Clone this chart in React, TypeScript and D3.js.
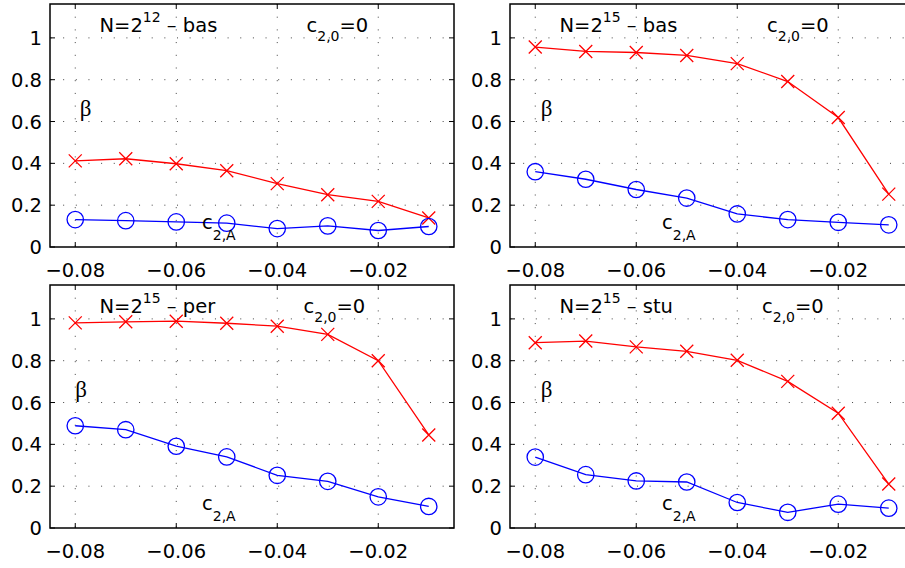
import React from "react";
import * as d3 from "d3";

const xValues = [-0.08, -0.07, -0.06, -0.05, -0.04, -0.03, -0.02, -0.01];
const xTicks = [-0.08, -0.06, -0.04, -0.02];
const xTickLabels = ["\u22120.08", "\u22120.06", "\u22120.04", "\u22120.02"];
const yTicks = [0, 0.2, 0.4, 0.6, 0.8, 1];
const yTickLabels = ["0", "0.2", "0.4", "0.6", "0.8", "1"];

const beta1 = [0.412, 0.422, 0.398, 0.365, 0.303, 0.25, 0.218, 0.139];
const c2a1 = [0.131, 0.126, 0.12, 0.114, 0.088, 0.101, 0.079, 0.098];
const beta2 = [0.956, 0.935, 0.93, 0.916, 0.877, 0.791, 0.619, 0.253];
const c2a2 = [0.36, 0.324, 0.275, 0.234, 0.158, 0.131, 0.118, 0.106];
const beta3 = [0.981, 0.986, 0.989, 0.979, 0.965, 0.926, 0.8, 0.445];
const c2a3 = [0.489, 0.47, 0.391, 0.34, 0.252, 0.223, 0.149, 0.103];
const beta4 = [0.886, 0.894, 0.866, 0.845, 0.802, 0.701, 0.549, 0.21];
const c2a4 = [0.339, 0.255, 0.225, 0.22, 0.122, 0.075, 0.114, 0.095];

const exponents = ["12", "15", "15", "15"];
const kinds = ["bas", "bas", "per", "stu"];

const panelsLayout = [
  { left: 50, top: 4, beta: beta1, c2a: c2a1, exp: exponents[0], kind: kinds[0], cx: -0.0342, bx: -0.0791 },
  { left: 510, top: 4, beta: beta2, c2a: c2a2, exp: exponents[1], kind: kinds[1], cx: -0.0341, bx: -0.0789 },
  { left: 50, top: 285, beta: beta3, c2a: c2a3, exp: exponents[2], kind: kinds[2], cx: -0.0348, bx: -0.0800 },
  { left: 510, top: 285, beta: beta4, c2a: c2a4, exp: exponents[3], kind: kinds[3], cx: -0.0351, bx: -0.0789 },
];

const W = 404;
const H = 243;
const FONT = "'DejaVu Sans', Verdana, sans-serif";

function Panel({ p }: { p: any }) {
  const x = d3.scaleLinear().domain([-0.085, -0.005]).range([0, W]);
  const y = d3.scaleLinear().domain([0, 1.162]).range([H, 0]);
  const line = d3
    .line<number>()
    .x((_, i) => x(xValues[i]))
    .y((d) => y(d));
  const tick = 5;
  return (
    <g transform={`translate(${p.left},${p.top})`}>
      <rect x={0} y={0} width={W} height={H} fill="white" />
      {xTicks.map((t, i) => (
        <line
          key={"gx" + i}
          x1={x(t)}
          x2={x(t)}
          y1={0}
          y2={H}
          stroke="#444"
          strokeWidth={1}
          strokeDasharray="1,11.7"
        />
      ))}
      {yTicks.slice(1).map((t, i) => (
        <line
          key={"gy" + i}
          x1={0.5}
          x2={W}
          y1={y(t)}
          y2={y(t)}
          stroke="#444"
          strokeWidth={1}
          strokeDasharray="1,11.65"
        />
      ))}
      {xTicks.map((t, i) => (
        <g key={"tx" + i}>
          <line x1={x(t)} x2={x(t)} y1={H} y2={H - tick} stroke="black" strokeWidth={1} />
          <line x1={x(t)} x2={x(t)} y1={0} y2={tick} stroke="black" strokeWidth={1} />
          <text
            x={x(t)}
            y={H + 29.5}
            textAnchor="middle"
            fontFamily={FONT}
            fontSize={19.5}
            fill="black"
          >
            {xTickLabels[i]}
          </text>
        </g>
      ))}
      {yTicks.map((t, i) => (
        <g key={"ty" + i}>
          <line x1={0} x2={tick} y1={y(t)} y2={y(t)} stroke="black" strokeWidth={1} />
          <line x1={W} x2={W - tick} y1={y(t)} y2={y(t)} stroke="black" strokeWidth={1} />
          <text
            x={-8}
            y={y(t) + 7}
            textAnchor="end"
            fontFamily={FONT}
            fontSize={19.5}
            fill="black"
          >
            {yTickLabels[i]}
          </text>
        </g>
      ))}
      <path d={line(p.beta) || ""} fill="none" stroke="#ff0000" strokeWidth={1.3} />
      {p.beta.map((v: number, i: number) => {
        const cx = x(xValues[i]);
        const cy = y(v);
        const s = 6.5;
        return (
          <path
            key={"b" + i}
            d={`M${cx - s},${cy - s}L${cx + s},${cy + s}M${cx - s},${cy + s}L${cx + s},${cy - s}`}
            stroke="#ff0000"
            strokeWidth={1.3}
            fill="none"
          />
        );
      })}
      <path d={line(p.c2a) || ""} fill="none" stroke="#0000ff" strokeWidth={1.3} />
      {p.c2a.map((v: number, i: number) => (
        <circle
          key={"c" + i}
          cx={x(xValues[i])}
          cy={y(v)}
          r={8.2}
          fill="none"
          stroke="#0000ff"
          strokeWidth={1.3}
        />
      ))}
      <text x={x(-0.0752)} y={y(1.03)} fontFamily={FONT} fontSize={19.5} fill="black">
        N=2
        <tspan dy={-10} fontSize={14}>
          {p.exp}
        </tspan>
        <tspan dy={10}> {"\u2013"} {p.kind}</tspan>
      </text>
      <text x={x(p.cx)} y={y(1.03)} fontFamily={FONT} fontSize={19.5} fill="black">
        c
        <tspan dy={9} fontSize={14}>
          2,0
        </tspan>
        <tspan dy={-9}>=0</tspan>
      </text>
      <text
        x={x(p.bx)}
        y={y(0.625)}
        fontFamily="'Liberation Serif', 'Times New Roman', serif"
        fontSize={23}
        fill="black"
      >
        {"\u03B2"}
      </text>
      <text x={x(-0.0549)} y={y(0.088)} fontFamily={FONT} fontSize={19.5} fill="black">
        c
        <tspan dy={11} fontSize={14}>
          2,A
        </tspan>
      </text>
      <rect x={0} y={0} width={W} height={H} fill="none" stroke="black" strokeWidth={1.5} />
    </g>
  );
}

export default function App() {
  return (
    <svg
      width={905}
      height={568}
      viewBox="0 0 905 568"
      style={{ position: "absolute", left: 0, top: 0, background: "white" }}
    >
      <rect x={0} y={0} width={905} height={568} fill="white" />
      {panelsLayout.map((p, i) => (
        <Panel key={i} p={p} />
      ))}
    </svg>
  );
}
